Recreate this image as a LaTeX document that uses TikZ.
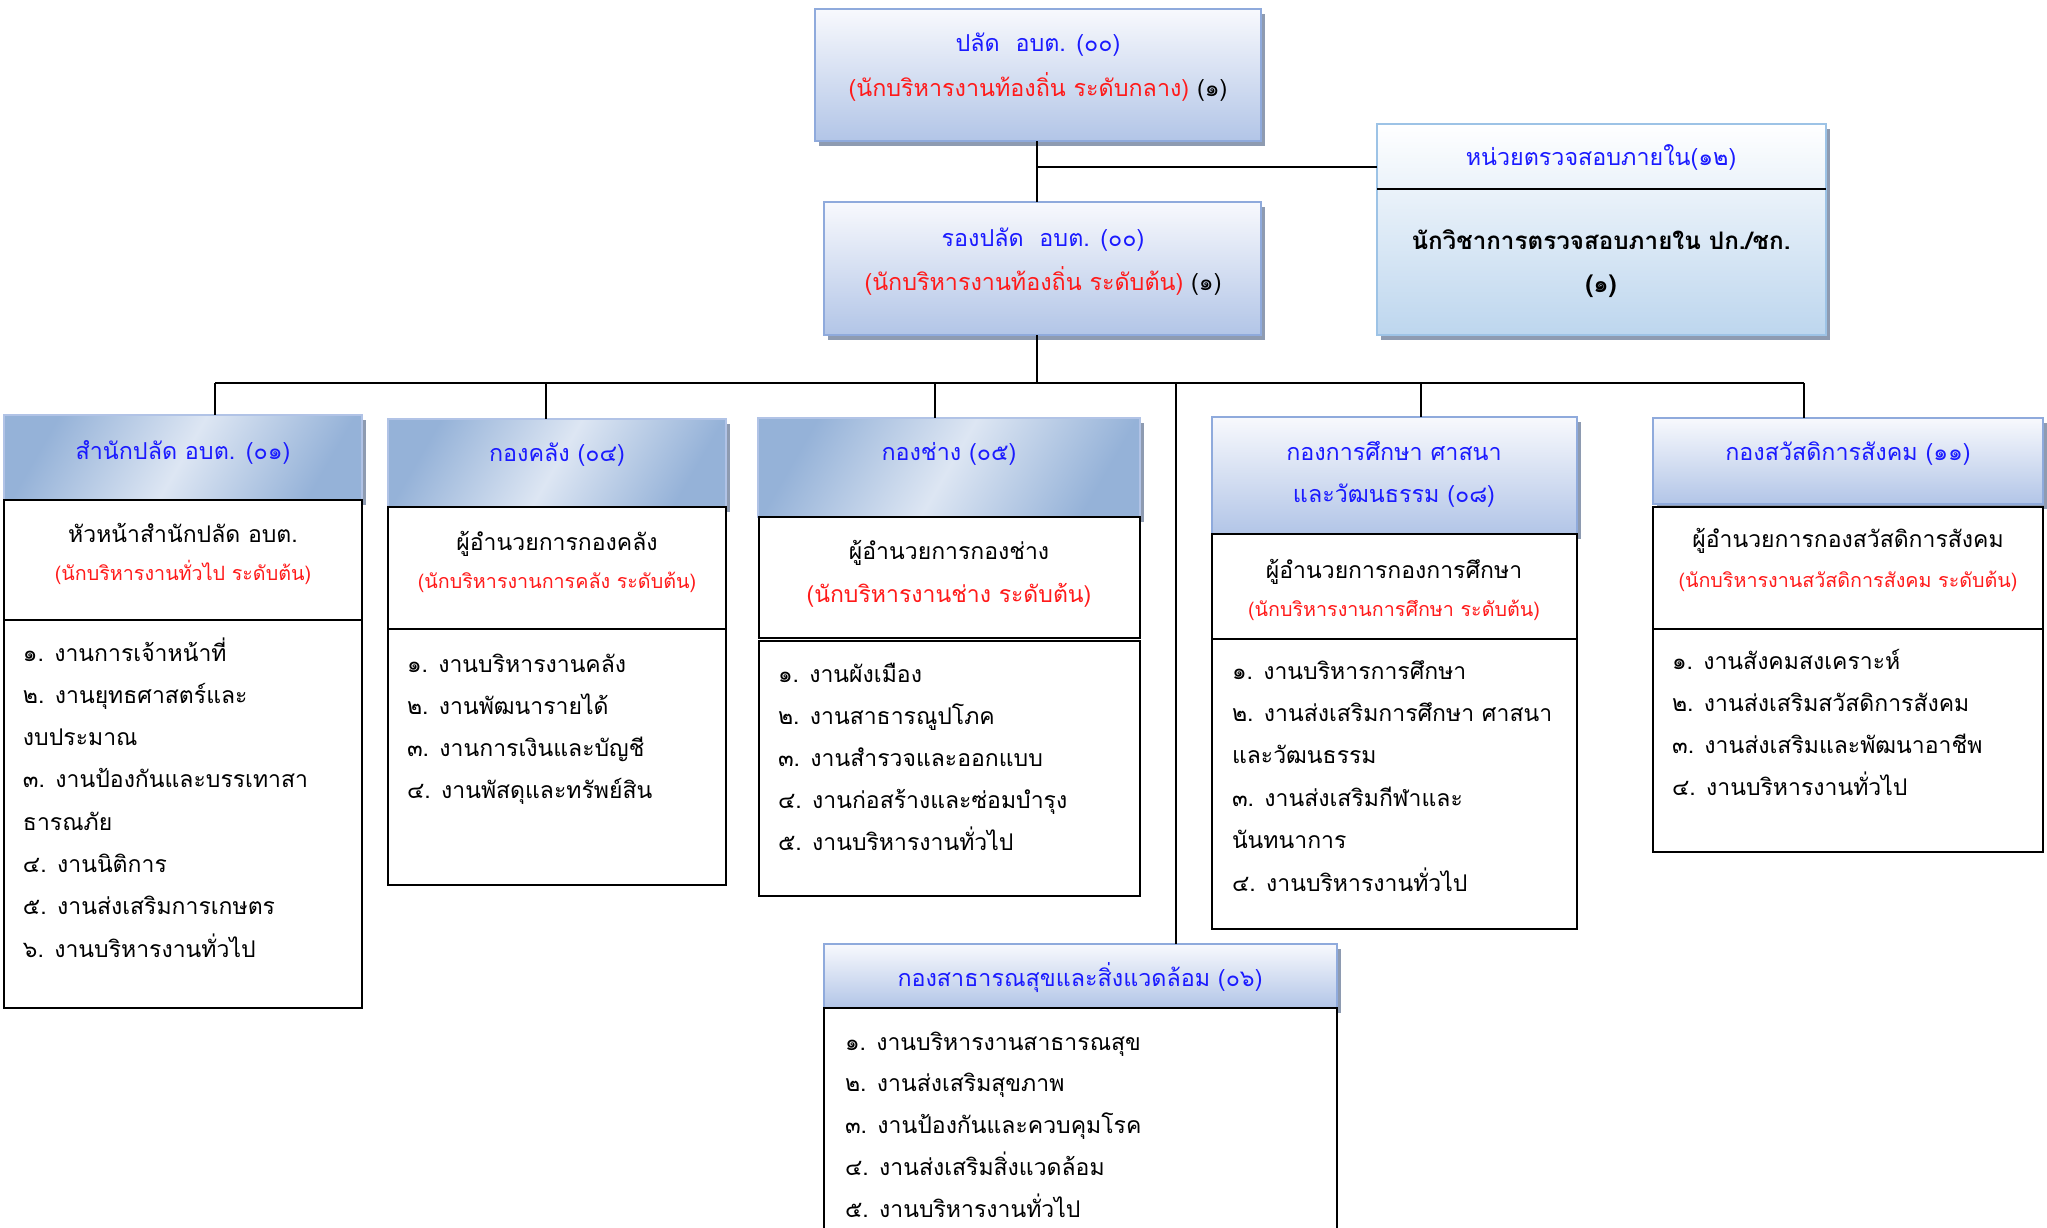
\documentclass[tikz,border=0pt]{standalone}
\usepackage{fontspec}
\newfontfamily\thai[Script=Thai]{Loma}
\usetikzlibrary{shadows,fit}
\definecolor{hdrTop}{HTML}{F8F9FD}
\definecolor{hdrBot}{HTML}{B2C5E7}
\definecolor{hdrBorder}{HTML}{8FAADC}
\definecolor{shadowC}{HTML}{8E9BB1}
\definecolor{diagDark}{HTML}{95B2D8}
\definecolor{diagLight}{HTML}{DDE6F3}
\definecolor{audTop}{HTML}{FFFFFF}
\definecolor{audBot}{HTML}{BDD6EE}
\definecolor{audBorder}{HTML}{9DC3E6}
\definecolor{tblue}{HTML}{1A1AFF}
\definecolor{tred}{HTML}{FF1A1A}
\newcommand\itemlines[5]{%
  \foreach \t [count=\i from 0] in {#5}
    \node[lsttext, anchor=base west] (#1-\i) at ({#2},{#3+#4*\i}) {\t};}
\begin{document}
\begin{tikzpicture}[x=1pt,y=-1pt,
  every node/.style={inner sep=0pt, outer sep=0pt},
  shad/.style={drop shadow={shadow xshift=4pt, shadow yshift=-5pt, fill=shadowC, opacity=1}},
  hdrbox/.style={draw=hdrBorder, line width=2.5pt, top color=hdrTop, bottom color=hdrBot, shad},
  diagbox/.style={draw=hdrBorder!70!white, line width=2pt, shading=axis, top color=diagDark, bottom color=diagDark, middle color=diagLight, shading angle=60, shad},
  audbox/.style={draw=audBorder, line width=2.5pt, top color=audTop, bottom color=audBot, shad},
  plainbox/.style={draw=black, line width=2.2pt, fill=white},
  conn/.style={draw=black, line width=2.2pt},
  ttl/.style={font=\thai\fontsize{23.3}{30}\selectfont, text=tblue, anchor=base},
  blk/.style={font=\thai\fontsize{23}{30}\selectfont, text=black, anchor=base},
  subr/.style={font=\thai\fontsize{19.7}{24}\selectfont, text=tred, anchor=base},
  subrbig/.style={font=\thai\fontsize{23}{30}\selectfont, text=tred, anchor=base},
  lsttext/.style={font=\thai\fontsize{23}{30}\selectfont, text=black},
]
\useasboundingbox (0,0) rectangle (2047,1227);
\clip (0,0) rectangle (2047,1227);

% ---------- top ----------
\node[hdrbox, fit={(815,9) (1261,141)}] (top) {};
\node[ttl] (top-a) at (1038,51) {ปลัด\ \ อบต. (๐๐)};
\node[ttl, text=tred] (top-b) at (1038,96) {(นักบริหารงานท้องถิ่น ระดับกลาง) \textcolor{black}{(๑)}};

\node[hdrbox, fit={(824,202) (1261,335)}] (rong) {};
\node[ttl] (rong-a) at (1043,246) {รองปลัด\ \ อบต. (๐๐)};
\node[ttl, text=tred] (rong-b) at (1043,290) {(นักบริหารงานท้องถิ่น ระดับต้น) \textcolor{black}{(๑)}};

\node[audbox, fit={(1377,124) (1826,335)}] (aud) {};
\coordinate (audL) at (1377,189);
\coordinate (audR) at (1826,189);
\draw[conn] (audL) -- (audR);
\node[ttl] (aud-a) at (1601,165) {หน่วยตรวจสอบภายใน(๑๒)};
\node[blk, font=\thai\bfseries\fontsize{24.2}{30}\selectfont] (aud-b) at (1601,249) {นักวิชาการตรวจสอบภายใน ปก./ชก.};
\node[blk, font=\thai\bfseries\fontsize{24.2}{30}\selectfont] (aud-c) at (1601,292) {(๑)};

% ---------- connectors ----------
\coordinate (jA) at (1037,167);
\coordinate (bus) at (1037,383);
\coordinate (d1) at (215,383);
\coordinate (d2) at (546,383);
\coordinate (d3) at (935,383);
\coordinate (d6) at (1176,383);
\coordinate (d4) at (1421,383);
\coordinate (d5) at (1804,383);
\draw[conn] (top.south -| jA) -- (rong.north -| jA);
\draw[conn] (jA) -- (jA -| aud.west);
\draw[conn] (rong.south -| bus) -- (bus);
\draw[conn] (d1) -- (d5);

% ---------- box 1 ----------
\node[diagbox, fit={(4,415) (362,500)}] (b1h) {};
\node[plainbox, fit={(4,500) (362,620)}] (b1m) {};
\node[plainbox, fit={(4,620) (362,1008)}] (b1l) {};
\node[ttl] (b1h-t) at (183,459) {สำนักปลัด อบต. (๐๑)};
\node[blk] (b1m-a) at (183,542) {หัวหน้าสำนักปลัด อบต.};
\node[subr] (b1m-b) at (183,580) {(นักบริหารงานทั่วไป ระดับต้น)};
\itemlines{b1i}{23}{661}{42.3}{{๑. งานการเจ้าหน้าที่},{๒. งานยุทธศาสตร์และ},{งบประมาณ},{๓. งานป้องกันและบรรเทาสา},{ธารณภัย},{๔. งานนิติการ},{๕. งานส่งเสริมการเกษตร},{๖. งานบริหารงานทั่วไป}}

% ---------- box 2 ----------
\node[diagbox, fit={(388,419) (726,507)}] (b2h) {};
\node[plainbox, fit={(388,507) (726,629)}] (b2m) {};
\node[plainbox, fit={(388,629) (726,885)}] (b2l) {};
\node[ttl] (b2h-t) at (557,461) {กองคลัง (๐๔)};
\node[blk] (b2m-a) at (557,550) {ผู้อำนวยการกองคลัง};
\node[subr] (b2m-b) at (557,588) {(นักบริหารงานการคลัง ระดับต้น)};
\itemlines{b2i}{407}{672}{42}{{๑. งานบริหารงานคลัง},{๒. งานพัฒนารายได้},{๓. งานการเงินและบัญชี},{๔. งานพัสดุและทรัพย์สิน}}

% ---------- box 3 ----------
\node[diagbox, fit={(758,418) (1140,517)}] (b3h) {};
\node[plainbox, fit={(759,517) (1140,638)}] (b3m) {};
\node[plainbox, fit={(759,641) (1140,896)}] (b3l) {};
\node[ttl] (b3h-t) at (949,460) {กองช่าง (๐๕)};
\node[blk] (b3m-a) at (949,559) {ผู้อำนวยการกองช่าง};
\node[subrbig] (b3m-b) at (949,602) {(นักบริหารงานช่าง ระดับต้น)};
\itemlines{b3i}{778}{682}{42}{{๑. งานผังเมือง},{๒. งานสาธารณูปโภค},{๓. งานสำรวจและออกแบบ},{๔. งานก่อสร้างและซ่อมบำรุง},{๕. งานบริหารงานทั่วไป}}

% ---------- box 4 ----------
\node[hdrbox, fit={(1212,417) (1577,534)}] (b4h) {};
\node[plainbox, fit={(1212,534) (1577,639)}] (b4m) {};
\node[plainbox, fit={(1212,639) (1577,929)}] (b4l) {};
\node[ttl] (b4h-a) at (1394,460) {กองการศึกษา ศาสนา};
\node[ttl] (b4h-b) at (1394,502) {และวัฒนธรรม (๐๘)};
\node[blk] (b4m-a) at (1394,578) {ผู้อำนวยการกองการศึกษา};
\node[subr] (b4m-b) at (1394,616) {(นักบริหารงานการศึกษา ระดับต้น)};
\itemlines{b4i}{1232}{679}{42.4}{{๑. งานบริหารการศึกษา},{๒. งานส่งเสริมการศึกษา ศาสนา},{และวัฒนธรรม},{๓. งานส่งเสริมกีฬาและ},{นันทนาการ},{๔. งานบริหารงานทั่วไป}}

% ---------- box 5 ----------
\node[hdrbox, fit={(1653,418) (2043,504)}] (b5h) {};
\node[plainbox, fit={(1653,507) (2043,629)}] (b5m) {};
\node[plainbox, fit={(1653,629) (2043,852)}] (b5l) {};
\node[ttl] (b5h-t) at (1848,460) {กองสวัสดิการสังคม (๑๑)};
\node[blk] (b5m-a) at (1848,547) {ผู้อำนวยการกองสวัสดิการสังคม};
\node[subr] (b5m-b) at (1848,587) {(นักบริหารงานสวัสดิการสังคม ระดับต้น)};
\itemlines{b5i}{1672}{669}{42.3}{{๑. งานสังคมสงเคราะห์},{๒. งานส่งเสริมสวัสดิการสังคม},{๓. งานส่งเสริมและพัฒนาอาชีพ},{๔. งานบริหารงานทั่วไป}}

% ---------- box 6 ----------
\node[hdrbox, fit={(824,944) (1337,1008)}] (b6h) {};
\node[plainbox, fit={(824,1008) (1337,1250)}] (b6l) {};
\node[ttl] (b6h-t) at (1080,986) {กองสาธารณสุขและสิ่งแวดล้อม (๐๖)};
\itemlines{b6i}{845}{1050}{41.8}{{๑. งานบริหารงานสาธารณสุข},{๒. งานส่งเสริมสุขภาพ},{๓. งานป้องกันและควบคุมโรค},{๔. งานส่งเสริมสิ่งแวดล้อม},{๕. งานบริหารงานทั่วไป}}

% ---------- drops ----------
\draw[conn] (d1) -- (d1 |- b1h.north);
\draw[conn] (d2) -- (d2 |- b2h.north);
\draw[conn] (d3) -- (d3 |- b3h.north);
\draw[conn] (d4) -- (d4 |- b4h.north);
\draw[conn] (d5) -- (d5 |- b5h.north);
\draw[conn] (d6) -- (d6 |- b6h.north);
\end{tikzpicture}
\end{document}
